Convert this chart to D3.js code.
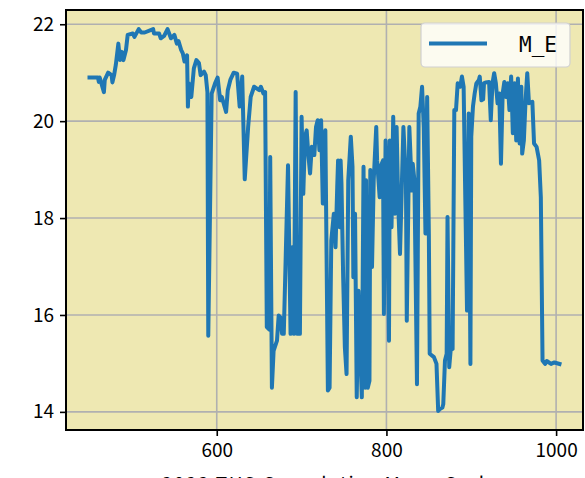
<!DOCTYPE html>
<html><head><meta charset="utf-8">
<script src="https://cdn.jsdelivr.net/npm/d3@7"></script>
<style>html,body{margin:0;padding:0;background:#fff;}svg{display:block;}</style>
</head><body>
<svg id="c" width="585" height="478"></svg>
<script>
const seriesName = "M_E";
const xLabel = "2023 THS Cumulative Mean Carbon";
const xTicks = [600, 800, 1000];
const yTicks = [14, 16, 18, 20, 22];
const xs = [450,460,461,462,467,468,472,476,477,479,481,484,486,488,490,493,495,501,503,508,511,515,525,526,532,534,538,542,546,550,553,555,558,560,562,565,566,567,570,573,576,579,581,585,587,589,590,594,598,601,604,606,611,613,616,620,624,627,630,633,637,640,644,650,652,655,657,659,662,663,665,667,671,673,675,677,679,684,687,689,691,693,695,698,700,702,704,706,708,710,712,715,717,719,721,723,725,728,731,733,735,738,740,742,743,745,746,747,749,751,753,755,758,760,761,763,765,767,769,771,773,775,776,778,780,781,783,785,788,789,792,793,796,797,799,801,803,804,806,808,810,812,814,816,818,820,823,824,827,830,831,833,836,838,840,842,844,846,848,850,851,856,859,861,863,866,867,869,871,872,874,876,878,880,882,884,887,889,891,893,895,897,899,900,902,904,906,909,910,912,914,915,917,921,923,925,927,929,931,933,935,937,939,941,943,945,947,949,951,953,955,957,959,960,962,964,966,968,972,974,977,980,982,984,987,989,994,998,1004];
const ys = [20.9,20.9,20.81,20.9,20.6,20.85,21.0,20.95,20.8,20.95,21.16,21.6,21.26,21.43,21.26,21.47,21.78,21.81,21.74,21.9,21.83,21.83,21.9,21.81,21.81,21.71,21.76,21.9,21.71,21.78,21.6,21.65,21.47,21.4,21.23,21.36,20.3,20.78,20.5,21.09,21.26,21.2,20.95,21.02,20.95,20.6,15.57,20.57,20.78,20.9,20.43,20.5,20.19,20.64,20.85,21.0,20.98,20.3,20.92,18.8,19.88,20.5,20.71,20.64,20.71,20.57,20.6,15.75,15.7,19.26,14.5,15.26,15.47,15.99,15.95,15.61,15.61,19.09,15.61,17.4,15.61,20.6,15.61,15.61,20.09,18.5,19.68,19.81,19.3,18.92,19.47,19.3,19.88,20.02,19.4,20.02,18.3,19.81,14.44,14.5,17.54,18.09,17.4,18.64,19.19,17.81,19.19,18.71,16.78,15.33,14.78,18.78,19.68,19.06,16.78,18.09,14.3,16.5,15.33,14.3,19.06,14.5,18.78,14.5,14.64,18.99,16.99,18.78,19.88,19.19,18.43,19.06,19.19,16.02,19.6,18.57,15.47,19.6,17.81,20.09,18.09,19.88,18.23,17.26,18.57,19.88,18.78,15.88,19.88,18.57,19.12,18.78,14.57,20.16,20.3,20.71,19.88,17.68,20.5,17.68,15.2,15.13,14.99,14.02,14.06,14.09,14.16,15.06,15.2,18.02,14.92,15.33,15.3,20.23,20.23,20.78,20.71,20.92,20.71,18.37,16.09,20.16,14.99,19.68,20.3,20.57,20.78,20.85,20.92,20.43,20.45,20.78,20.8,20.81,20.02,20.78,20.99,20.78,20.37,20.57,19.12,20.57,20.81,20.5,20.78,20.23,20.92,19.75,20.78,19.6,20.88,19.54,20.71,19.33,19.6,20.43,20.99,20.37,20.4,19.54,19.47,19.19,18.43,15.06,14.99,15.05,14.99,15.02,14.99];

const W = 585, H = 478;
const m = {left: 66, right: 583, top: 10, bottom: 430};
const svg = d3.select("#c");
const font = "'Noto Sans CJK JP', 'Noto Sans', sans-serif";

function padded(ext){ const r = ext[1]-ext[0]; return [ext[0]-0.05*r, ext[1]+0.05*r]; }
const x = d3.scaleLinear().domain(padded(d3.extent(xs))).range([m.left, m.right]);
const y = d3.scaleLinear().domain(padded(d3.extent(ys))).range([m.bottom, m.top]);

svg.append("rect").attr("x", m.left).attr("y", m.top)
  .attr("width", m.right-m.left).attr("height", m.bottom-m.top).attr("fill", "#eee8b2");

// grid
const g = svg.append("g");
g.selectAll(".vx").data(xTicks).join("line")
  .attr("x1", d=>x(d)).attr("x2", d=>x(d)).attr("y1", m.top).attr("y2", m.bottom)
  .attr("stroke", "#b0b0b0").attr("stroke-width", 1.6);
g.selectAll(".hy").data(yTicks).join("line")
  .attr("y1", d=>y(d)).attr("y2", d=>y(d)).attr("x1", m.left).attr("x2", m.right)
  .attr("stroke", "#b0b0b0").attr("stroke-width", 1.6);

svg.append("clipPath").attr("id","clip").append("rect")
  .attr("x", m.left).attr("y", m.top).attr("width", m.right-m.left).attr("height", m.bottom-m.top);

const pts = xs.map((v,i)=>[v, ys[i]]);
svg.append("path").datum(pts)
  .attr("clip-path","url(#clip)")
  .attr("d", d3.line().x(d=>x(d[0])).y(d=>y(d[1])))
  .attr("fill","none").attr("stroke","#1f77b4").attr("stroke-width",4)
  .attr("stroke-linejoin","round").attr("stroke-linecap","square");

// axes
const xa = svg.append("g").attr("transform", `translate(0,${m.bottom})`)
  .call(d3.axisBottom(x).tickValues(xTicks).tickSize(6).tickPadding(8).tickFormat(d3.format("d")));
const ya = svg.append("g").attr("transform", `translate(${m.left},0)`)
  .call(d3.axisLeft(y).tickValues(yTicks).tickSize(6).tickPadding(6).tickFormat(d3.format("d")));
[xa, ya].forEach(a => {
  a.select(".domain").remove();
  a.selectAll(".tick line").attr("stroke","#000").attr("stroke-width",1.6);
  a.selectAll(".tick text").attr("fill","#000").style("font-family", font).style("font-size","19px");
});

// spines
svg.append("rect").attr("x", m.left).attr("y", m.top)
  .attr("width", m.right-m.left).attr("height", m.bottom-m.top)
  .attr("fill","none").attr("stroke","#000").attr("stroke-width",2);

// x label (cut off by the bottom edge, as in the reference)
svg.append("text").attr("x", 340).attr("y", 491)
  .attr("text-anchor","middle").style("font-family", font).style("font-size","19px")
  .style("letter-spacing","1.5px")
  .text(xLabel);

// legend
const lg = svg.append("g");
lg.append("rect").attr("x", 421).attr("y", 23).attr("width", 149).attr("height", 44)
  .attr("rx", 4).attr("fill", "rgba(255,255,255,0.8)").attr("stroke", "#d0d0d0").attr("stroke-width", 1.2);
lg.append("line").attr("x1", 429).attr("x2", 487).attr("y1", 43.5).attr("y2", 43.5)
  .attr("stroke", "#1f77b4").attr("stroke-width", 4);
lg.append("text").attr("x", 519).attr("y", 51.5)
  .style("font-family", "'DejaVu Sans Mono', monospace").style("font-size","21px").text(seriesName);
</script>
</body></html>
